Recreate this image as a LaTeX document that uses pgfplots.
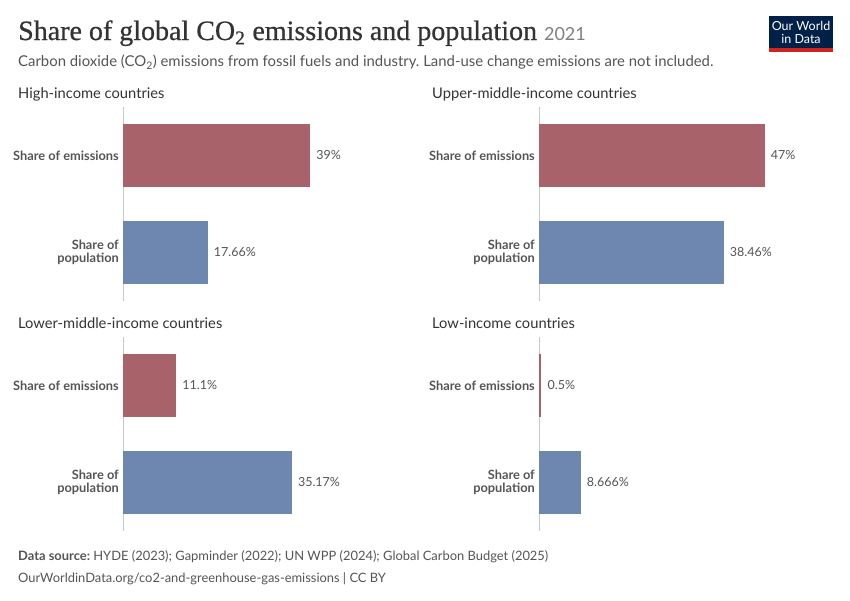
\documentclass[border=0pt]{standalone}
\usepackage{pgfplots}
\pgfplotsset{compat=1.18}
\usepackage{fontspec}
\setmainfont{Lato}
\newfontfamily\titlefont[FakeBold=0.6]{Liberation Serif}
\definecolor{emis}{HTML}{A8636A}
\definecolor{pop}{HTML}{6E87B0}
\definecolor{txt}{HTML}{555555}
\definecolor{head}{HTML}{333333}
\definecolor{axisgray}{HTML}{C8C8C8}
\definecolor{owidblue}{HTML}{002147}
\definecolor{owidred}{HTML}{CE261E}
\pgfplotsset{
  panel/.style={
    xbar, scale only axis, width=288pt, height=194pt,
    xmin=0, xmax=60, ymin=-0.5, ymax=1.5, y dir=reverse,
    axis x line=none, axis y line*=left,
    y axis line style={draw=axisgray, line width=0.8pt, -},
    ytick={0,1}, yticklabels={Share of emissions, Share of\\population},
    major tick length=0pt,
    yticklabel style={font=\fontsize{12.8}{13.6}\selectfont\bfseries, text=txt, align=right, inner sep=0pt, xshift=-4pt},
    bar width=63pt, bar shift=0pt,
    point meta=explicit symbolic,
    nodes near coords,
    nodes near coords style={font=\fontsize{12.5}{14}\selectfont, text=txt, anchor=west, inner sep=0pt, xshift=6pt},
    clip=false,
  }
}
\begin{document}
\frenchspacing
\begin{tikzpicture}[x=1pt,y=-1pt]
\useasboundingbox[fill=white] (0,0) rectangle (850,600);
\coordinate (p1) at (123,301);
\coordinate (p2) at (539,301);
\coordinate (p3) at (123,531);
\coordinate (p4) at (539,531);
% title
\node[anchor=base west, inner sep=0pt, text=head] at (18,40) {\titlefont\fontsize{28}{32}\selectfont Share of global CO\textsubscript{2} emissions and population\ \fontsize{18}{20}\selectfont\color{gray}\rmfamily 2021};
\node[anchor=base west, inner sep=0pt, text=txt] at (18,66.5) {\fontsize{14.9}{17}\selectfont Carbon dioxide (CO\textsubscript{2}) emissions from fossil fuels and industry. Land-use change emissions are not included.};
% logo
\fill[owidblue] (769,16) rectangle (833,48);
\fill[owidred] (769,48) rectangle (833,51.5);
\node[align=center, text=white, inner sep=0pt, font=\fontsize{12.5}{13}\selectfont] at (801,32) {Our World\\in Data};
% panel titles
\node[anchor=base west, inner sep=0pt, text=head, font=\fontsize{14.7}{16}\selectfont] at (18,98) {High-income countries};
\node[anchor=base west, inner sep=0pt, text=head, font=\fontsize{14.7}{16}\selectfont] at (432,98) {Upper-middle-income countries};
\node[anchor=base west, inner sep=0pt, text=head, font=\fontsize{14.7}{16}\selectfont] at (18,328) {Lower-middle-income countries};
\node[anchor=base west, inner sep=0pt, text=head, font=\fontsize{14.7}{16}\selectfont] at (432,328) {Low-income countries};
% panels
\begin{axis}[panel, at={(p1)}, anchor=south west]
\addplot[fill=emis, draw=none] coordinates {(39,0) [39\%]};
\addplot[fill=pop, draw=none] coordinates {(17.66,1) [17.66\%]};
\end{axis}
\begin{axis}[panel, at={(p2)}, anchor=south west]
\addplot[fill=emis, draw=none] coordinates {(47,0) [47\%]};
\addplot[fill=pop, draw=none] coordinates {(38.46,1) [38.46\%]};
\end{axis}
\begin{axis}[panel, at={(p3)}, anchor=south west]
\addplot[fill=emis, draw=none] coordinates {(11.1,0) [11.1\%]};
\addplot[fill=pop, draw=none] coordinates {(35.17,1) [35.17\%]};
\end{axis}
\begin{axis}[panel, at={(p4)}, anchor=south west]
\addplot[fill=emis, draw=none] coordinates {(0.5,0) [0.5\%]};
\addplot[fill=pop, draw=none] coordinates {(8.666,1) [8.666\%]};
\end{axis}
% footer
\node[anchor=base west, inner sep=0pt, text=txt, font=\fontsize{12.9}{14}\selectfont] at (18,560) {\textbf{Data source:} HYDE (2023); Gapminder (2022); UN WPP (2024); Global Carbon Budget (2025)};
\node[anchor=base west, inner sep=0pt, text=txt, font=\fontsize{12.9}{14}\selectfont] at (18,582) {OurWorldinData.org/co2-and-greenhouse-gas-emissions | CC BY};
\end{tikzpicture}
\end{document}
